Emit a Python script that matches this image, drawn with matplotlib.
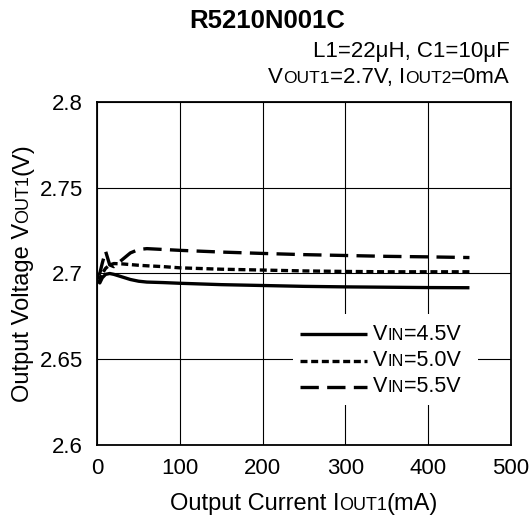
import matplotlib
matplotlib.use("Agg")
import matplotlib.pyplot as plt
from matplotlib.patches import Rectangle
from matplotlib.lines import Line2D

plt.rcParams['font.family'] = ['Liberation Sans', 'DejaVu Sans']

# ---------------- data ----------------
current_ma = [0, 3, 6, 10, 15, 20, 30, 40, 50, 60, 80, 100, 150, 200, 250, 300, 350, 400, 450]
vout_vin45 = [2.6960, 2.6945, 2.6975, 2.6995, 2.7000, 2.6995, 2.6980, 2.6965, 2.6955, 2.6950,
              2.6947, 2.6943, 2.6935, 2.6930, 2.6925, 2.6922, 2.6920, 2.6918, 2.6917]
vout_vin50 = [2.6980, 2.6970, 2.7000, 2.7030, 2.7050, 2.7058, 2.7056, 2.7052, 2.7048, 2.7045,
              2.7040, 2.7033, 2.7025, 2.7020, 2.7015, 2.7012, 2.7010, 2.7010, 2.7010]
vout_vin55 = [2.6990, 2.7000, 2.7060, 2.7130, 2.7050, 2.7040, 2.7080, 2.7120, 2.7140, 2.7145,
              2.7140, 2.7135, 2.7125, 2.7117, 2.7110, 2.7105, 2.7100, 2.7097, 2.7093]
series_labels = [("V", "IN", "=4.5V"), ("V", "IN", "=5.0V"), ("V", "IN", "=5.5V")]
x_ticks = [0, 100, 200, 300, 400, 500]
y_ticks = [2.6, 2.65, 2.7, 2.75, 2.8]
y_tick_labels = ["2.6", "2.65", "2.7", "2.75", "2.8"]

W, H = 531, 520
fig = plt.figure(figsize=(W / 100, H / 100), dpi=100)
AX_L, AX_R, AX_T, AX_B = 97.3, 510.8, 102.0, 445.0
ax = fig.add_axes([AX_L / W, 1 - AX_B / H, (AX_R - AX_L) / W, (AX_B - AX_T) / H])

lw = 2.4
styles = [dict(linestyle='-'),
          dict(linestyle=(0, (2.1, 1.1))),
          dict(linestyle=(0, (5.5, 2.5)))]
series = [vout_vin45, vout_vin50, vout_vin55]
for ys, st in zip(series, styles):
    ax.plot(current_ma, ys, color='black', lw=lw, dash_capstyle='butt', solid_capstyle='butt',
            zorder=3, **st)

ax.set_xlim(0, 500)
ax.set_ylim(2.6, 2.8)
ax.set_xticks(x_ticks)
ax.set_yticks(y_ticks)
ax.set_yticklabels(y_tick_labels)
ax.tick_params(length=0, labelsize=16)
ax.tick_params(axis='x', pad=9)
ax.tick_params(axis='y', pad=10.5)
ax.grid(True, color='black', lw=0.8, zorder=1)
ax.set_axisbelow(True)
for s in ax.spines.values():
    s.set_linewidth(1.3)

renderer = fig.canvas.get_renderer()


def rich(x_px, y_px, parts, ha='left', rotation=0):
    """parts: list of (text, size, weight). x_px,y_px in image pixels (y from top)."""
    objs = []
    sizes = []
    for s, size, weight in parts:
        t = fig.text(0, 0, s, fontsize=size, weight=weight, rotation=rotation,
                     rotation_mode='anchor', ha='left', va='baseline')
        bb = t.get_window_extent(renderer)
        objs.append(t)
        sizes.append(bb.width if rotation == 0 else bb.height)
    total = sum(sizes)
    yd = H - y_px
    if rotation == 0:
        if ha == 'left':
            start = x_px
        elif ha == 'right':
            start = x_px - total
        else:
            start = x_px - total / 2
        pos = start
        for t, w in zip(objs, sizes):
            t.set_position((pos / W, yd / H))
            pos += w
    else:
        start = yd - total / 2
        pos = start
        for t, w in zip(objs, sizes):
            t.set_position((x_px / W, pos / H))
            pos += w
    return objs


# Titles
fig.text(267.5 / W, 1 - 28 / H, "R5210N001C", fontsize=18.5, weight='bold', ha='center', va='baseline')
fig.text(510 / W, 1 - 57 / H, "L1=22\u03bcH, C1=10\u03bcF", fontsize=16, ha='right', va='baseline')
rich(510, 83, [("V", 16, 'normal'), ("OUT1", 12.5, 'normal'), ("=2.7V, I", 16, 'normal'),
               ("OUT2", 12.5, 'normal'), ("=0mA", 16, 'normal')], ha='right')

# Axis labels
rich(304, 510, [("Output Current I", 17, 'normal'), ("OUT1", 13, 'normal'), ("(mA)", 17, 'normal')],
     ha='center')
rich(28.5, 273, [("Output Voltage V", 17, 'normal'), ("OUT1", 13, 'normal'), ("(V)", 17, 'normal')],
     rotation=90)

# Legend (manual, to get small-cap subscripts)
def ax_frac(px, py):
    return ((px - AX_L) / (AX_R - AX_L), (AX_B - py) / (AX_B - AX_T))

x0, y0 = ax_frac(293, 405)
x1, y1 = ax_frac(478, 314)
ax.add_patch(Rectangle((x0, y0), x1 - x0, y1 - y0, transform=ax.transAxes,
                       facecolor='white', edgecolor='none', zorder=2))
rows_py = [334, 360.5, 386.5]
for py, st, lab in zip(rows_py, styles, series_labels):
    a, b = ax_frac(300, py)
    c, _ = ax_frac(367, py)
    ax.add_line(Line2D([a, c], [b, b], transform=ax.transAxes, color='black', lw=lw,
                       dash_capstyle='butt', solid_capstyle='butt', zorder=4, **st))
    rich(373, py + 6, [(lab[0], 15.5, 'normal'), (lab[1], 11.8, 'normal'), (lab[2], 15.5, 'normal')])

fig.savefig("out.png", dpi=100)
